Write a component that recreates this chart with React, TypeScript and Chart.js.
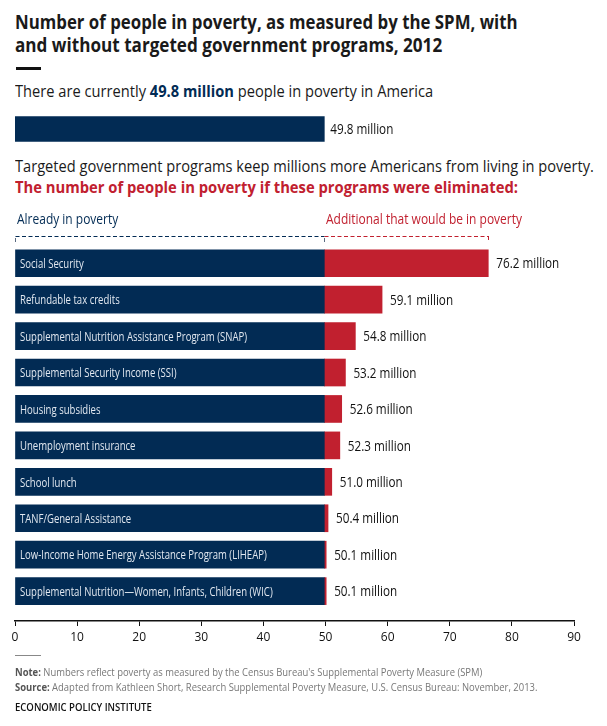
import React, { useEffect, useLayoutEffect, useRef } from "react";
import { Chart, registerables } from "chart.js";

Chart.register(...registerables);

const FONT = "'Open Sans', 'Noto Sans', 'DejaVu Sans', sans-serif";
const NAVY = "#022b54";
const RED = "#c1202f";

const currentPoverty = 49.8;
const programs = [
  "Social Security",
  "Refundable tax credits",
  "Supplemental Nutrition Assistance Program (SNAP)",
  "Supplemental Security Income (SSI)",
  "Housing subsidies",
  "Unemployment insurance",
  "School lunch",
  "TANF/General Assistance",
  "Low-Income Home Energy Assistance Program (LIHEAP)",
  "Supplemental Nutrition\u2014Women, Infants, Children (WIC)",
];
const alreadyInPoverty = [49.8, 49.8, 49.8, 49.8, 49.8, 49.8, 49.8, 49.8, 49.8, 49.8];
const totalWithoutProgram = [76.2, 59.1, 54.8, 53.2, 52.6, 52.3, 51.0, 50.4, 50.1, 50.1];
const xTicks = [0, 10, 20, 30, 40, 50, 60, 70, 80, 90];

const additional = totalWithoutProgram.map((t, i) => t - alreadyInPoverty[i]);

// draws text horizontally condensed by factor k
function condensedText(ctx: CanvasRenderingContext2D, text: string, x: number, y: number, k: number) {
  const w = ctx.measureText(text).width;
  ctx.fillText(text, x, y, w * k);
}

const valueFont = `14.5px ${FONT}`;
function valueK(ctx: CanvasRenderingContext2D) {
  ctx.font = valueFont;
  return 63 / ctx.measureText("76.2 million").width;
}

const topLabelPlugin = {
  id: "topLabel",
  afterDatasetsDraw(chart: any) {
    const ctx = chart.ctx;
    const bar = chart.getDatasetMeta(0).data[0];
    ctx.save();
    const k = valueK(ctx);
    ctx.font = valueFont;
    ctx.fillStyle = "#111";
    ctx.textBaseline = "middle";
    ctx.textAlign = "left";
    condensedText(ctx, `${currentPoverty.toFixed(1)} million`, bar.x + 6, bar.y + 0.5, k);
    ctx.restore();
  },
};

const mainPlugin = {
  id: "mainDecor",
  afterDatasetsDraw(chart: any) {
    const ctx = chart.ctx;
    const xs = chart.scales.x;
    const ys = chart.scales.y;
    ctx.save();
    ctx.textBaseline = "middle";
    ctx.textAlign = "left";
    // labels inside bars
    ctx.font = `13px ${FONT}`;
    const kIn = 227 / ctx.measureText(programs[2]).width;
    ctx.fillStyle = "#e2e8f0";
    programs.forEach((p, i) => {
      const y = ys.getPixelForValue(i);
      condensedText(ctx, p, xs.getPixelForValue(0) + 5, y + 1, kIn);
    });
    // totals
    const kv = valueK(ctx);
    ctx.font = valueFont;
    ctx.fillStyle = "#111";
    totalWithoutProgram.forEach((t, i) => {
      const y = ys.getPixelForValue(i);
      condensedText(ctx, `${t.toFixed(1)} million`, xs.getPixelForValue(t) + 8, y + 1, kv);
    });
    // bracket
    const by = Math.round(chart.chartArea.top - 9);
    const x0 = Math.round(xs.getPixelForValue(0)) + 0.5;
    const xm = Math.round(xs.getPixelForValue(alreadyInPoverty[0])) + 0.5;
    const x1 = Math.round(xs.getPixelForValue(totalWithoutProgram[0])) + 0.5;
    ctx.lineWidth = 1;
    ctx.setLineDash([4, 2.5]);
    ctx.strokeStyle = NAVY;
    ctx.beginPath();
    ctx.moveTo(x0, by + 0.5);
    ctx.lineTo(xm, by + 0.5);
    ctx.stroke();
    ctx.strokeStyle = RED;
    ctx.beginPath();
    ctx.moveTo(xm, by + 0.5);
    ctx.lineTo(x1, by + 0.5);
    ctx.stroke();
    ctx.setLineDash([]);
    ctx.strokeStyle = "#5a6a80";
    ctx.beginPath();
    ctx.moveTo(x0, by + 2);
    ctx.lineTo(x0, by + 6);
    ctx.moveTo(xm, by + 2);
    ctx.lineTo(xm, by + 6);
    ctx.stroke();
    ctx.strokeStyle = RED;
    ctx.beginPath();
    ctx.moveTo(x1, by);
    ctx.lineTo(x1, by + 4);
    ctx.stroke();
    // bracket labels
    ctx.font = `14px ${FONT}`;
    const kb = 196 / ctx.measureText("Additional that would be in poverty").width;
    ctx.fillStyle = NAVY;
    condensedText(ctx, "Already in poverty", x0 + 1.5, by - 16, kb);
    ctx.fillStyle = RED;
    condensedText(ctx, "Additional that would be in poverty", xm + 1.5, by - 16, kb);
    ctx.restore();
  },
};

function FitText(props: { top: number; target: number; style?: React.CSSProperties; children: React.ReactNode }) {
  const ref = useRef<HTMLDivElement>(null);
  useLayoutEffect(() => {
    const el = ref.current;
    if (!el) return;
    el.style.transform = "none";
    const w = el.scrollWidth;
    if (w > 0) el.style.transform = `scaleX(${props.target / w})`;
  }, [props.target]);
  return (
    <div
      ref={ref}
      style={{
        position: "absolute",
        left: 15,
        top: props.top,
        margin: 0,
        whiteSpace: "nowrap",
        width: "max-content",
        transformOrigin: "0 0",
        fontFamily: FONT,
        ...props.style,
      }}
    >
      {props.children}
    </div>
  );
}

export default function App() {
  const topRef = useRef<HTMLCanvasElement>(null);
  const mainRef = useRef<HTMLCanvasElement>(null);

  useEffect(() => {
    const top = new Chart(topRef.current as HTMLCanvasElement, {
      type: "bar",
      data: {
        labels: ["Current"],
        datasets: [{ data: [currentPoverty], backgroundColor: NAVY, barThickness: 25 } as any],
      },
      options: {
        indexAxis: "y",
        animation: false,
        responsive: false,
        layout: { padding: { left: 15, right: 33, top: 0, bottom: 0 } },
        scales: {
          x: { display: false, min: 0, max: 90 },
          y: { display: false },
        },
        plugins: { legend: { display: false }, tooltip: { enabled: false } },
      } as any,
      plugins: [topLabelPlugin],
    });

    const main = new Chart(mainRef.current as HTMLCanvasElement, {
      type: "bar",
      data: {
        datasets: [
          {
            label: "Already in poverty",
            data: alreadyInPoverty.map((v, i) => ({ x: v, y: i })),
            backgroundColor: NAVY,
            barThickness: 27,
          },
          {
            label: "Additional that would be in poverty",
            data: additional.map((v, i) => ({ x: v, y: i })),
            backgroundColor: RED,
            barThickness: 27,
          },
        ] as any,
      },
      options: {
        indexAxis: "y",
        animation: false,
        responsive: false,
        layout: { padding: { left: 15, right: 33, top: 45, bottom: 0 } },
        scales: {
          x: {
            type: "linear",
            stacked: true,
            min: 0,
            max: 90,
            afterBuildTicks(scale: any) {
              scale.ticks = xTicks.map((v) => ({ value: v }));
            },
            afterFit(scale: any) {
              scale.height = 39;
            },
            grid: { drawOnChartArea: false, drawTicks: true, tickLength: 5, color: "#111", lineWidth: 1 },
            border: { display: true, color: "#111", width: 1.5 },
            ticks: { color: "#111", font: { family: FONT, size: 12 }, padding: 4, autoSkip: false, maxRotation: 0 },
          },
          y: {
            type: "linear",
            stacked: true,
            reverse: true,
            offset: false,
            grace: 0,
            min: -0.5,
            max: 9.82,
            display: false,
          },
        },
        plugins: { legend: { display: false }, tooltip: { enabled: false } },
      } as any,
      plugins: [mainPlugin],
    });

    return () => {
      top.destroy();
      main.destroy();
    };
  }, []);

  return (
    <div style={{ position: "relative", width: 607, height: 726, margin: -8, background: "#fff", overflow: "hidden" }}>
      <FitText top={10} target={503} style={{ fontSize: 20, fontWeight: 700, lineHeight: "24px", color: "#1a1a1a" }}>
        Number of people in poverty, as measured by the SPM, with
      </FitText>
      <FitText top={33} target={427} style={{ fontSize: 20, fontWeight: 700, lineHeight: "24px", color: "#1a1a1a" }}>
        and without targeted government programs, 2012
      </FitText>
      <div style={{ position: "absolute", left: 16, top: 67, width: 25, height: 3, background: "#111" }} />
      <FitText top={81} target={418} style={{ fontSize: 15.5, lineHeight: "20px", color: "#1a1a1a" }}>
        There are currently <b style={{ color: NAVY }}>49.8 million</b> people in poverty in America
      </FitText>
      <canvas ref={topRef} width={607} height={48} style={{ position: "absolute", left: 0, top: 105, width: 607, height: 48 }} />
      <FitText top={156} target={579} style={{ fontSize: 15.5, lineHeight: "20px", color: "#1a1a1a" }}>
        Targeted government programs keep millions more Americans from living in poverty.
      </FitText>
      <FitText top={177} target={503} style={{ fontSize: 15.5, lineHeight: "20px", color: RED, fontWeight: 700 }}>
        The number of people in poverty if these programs were eliminated:
      </FitText>
      <canvas ref={mainRef} width={607} height={460} style={{ position: "absolute", left: 0, top: 200, width: 607, height: 460 }} />
      <div style={{ position: "absolute", left: 15, top: 655, width: 26, height: 1, background: "#888" }} />
      <FitText top={665} target={467} style={{ fontSize: 10, lineHeight: "14px", color: "#777" }}>
        <b style={{ color: "#555" }}>Note:</b> Numbers reflect poverty as measured by the Census Bureau's Supplemental Poverty Measure (SPM)
      </FitText>
      <FitText top={680} target={522} style={{ fontSize: 10, lineHeight: "14px", color: "#777" }}>
        <b style={{ color: "#555" }}>Source:</b> Adapted from Kathleen Short, Research Supplemental Poverty Measure, U.S. Census Bureau: November, 2013.
      </FitText>
      <FitText top={700} target={137} style={{ fontSize: 11, lineHeight: "14px", color: "#111", fontWeight: 600 }}>
        ECONOMIC POLICY INSTITUTE
      </FitText>
    </div>
  );
}
